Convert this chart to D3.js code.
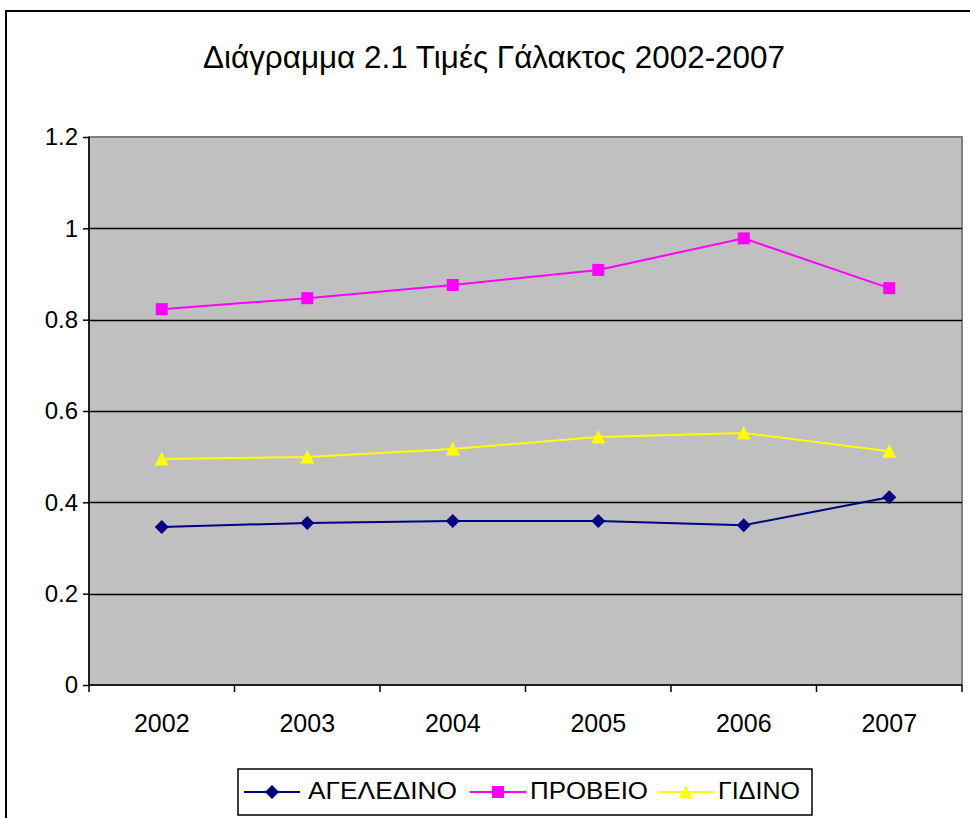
<!DOCTYPE html>
<html><head><meta charset="utf-8">
<script src="https://cdn.jsdelivr.net/npm/d3@7"></script>
<style>html,body{margin:0;padding:0;background:#fff;}svg{display:block;font-family:"Liberation Sans",Arial,sans-serif;}</style>
</head><body>
<script>
const titleText = "Διάγραμμα 2.1 Τιμές Γάλακτος 2002-2007";
const years = ["2002","2003","2004","2005","2006","2007"];
const yTicks = [0, 0.2, 0.4, 0.6, 0.8, 1, 1.2];
const seriesNames = ["ΑΓΕΛΕΔΙΝΟ","ΠΡΟΒΕΙΟ","ΓΙΔΙΝΟ"];
const ageladino = [0.346, 0.355, 0.359, 0.359, 0.350, 0.411];
const provio = [0.823, 0.847, 0.876, 0.909, 0.978, 0.869];
const gidino = [0.495, 0.499, 0.517, 0.543, 0.552, 0.512];
const colors = ["#000080","#FF00FF","#FFFF00"];
const markers = ["diamond","square","triangle"];
const seriesValues = [ageladino, provio, gidino];

const W = 970, H = 818;
const svg = d3.select("body").append("svg").attr("width", W).attr("height", H);

// outer chart border
svg.append("rect").attr("x", 6).attr("y", 11).attr("width", 990).attr("height", 830)
  .attr("fill", "#fff").attr("stroke", "#000").attr("stroke-width", 2);

svg.append("text").attr("x", 494).attr("y", 68).attr("text-anchor", "middle")
  .attr("font-size", 32).attr("fill", "#000")
  .attr("textLength", 582).attr("lengthAdjust", "spacingAndGlyphs").text(titleText);

const L = 89, R = 962, T = 137, B = 685;
const x = d3.scaleBand().domain(years).range([L, R]);
const y = d3.scaleLinear().domain([0, 1.2]).range([B, T]);

svg.append("rect").attr("x", L).attr("y", T).attr("width", R - L).attr("height", B - T)
  .attr("fill", "#C0C0C0").attr("stroke", "#808080").attr("stroke-width", 2);

// gridlines
svg.append("g").selectAll("line").data(yTicks.filter(d => d > 0 && d < 1.2)).join("line")
  .attr("x1", L).attr("x2", R).attr("y1", d => Math.round(y(d)) + 0.5).attr("y2", d => Math.round(y(d)) + 0.5)
  .attr("stroke", "#000").attr("stroke-width", 1.5);

// y axis
const yAxis = d3.axisLeft(y).tickValues(yTicks).tickSize(6).tickPadding(5).tickFormat(d => d3.format("")(d));
const gy = svg.append("g").attr("transform", `translate(${L},0)`).call(yAxis);
gy.select(".domain").attr("stroke", "#000").attr("stroke-width", 1.5).attr("d", `M0,${B}V${T}`);
gy.selectAll(".tick line").attr("stroke", "#000").attr("stroke-width", 1.5);
gy.selectAll(".tick text").attr("font-size", 24).attr("fill", "#000").attr("font-family", "Liberation Sans, Arial, sans-serif");

// x axis
const xAxis = d3.axisBottom(x).tickSize(0).tickPadding(29);
const gx = svg.append("g").attr("transform", `translate(0,${B})`).call(xAxis);
gx.select(".domain").attr("stroke", "#000").attr("stroke-width", 1.5).attr("d", `M${L},0H${R}`);
gx.selectAll(".tick text").attr("font-size", 25).attr("fill", "#000").attr("font-family", "Liberation Sans, Arial, sans-serif");
// tick marks at band boundaries
const bounds = years.map(d => x(d)).concat([R]);
gx.append("g").selectAll("line").data(bounds).join("line")
  .attr("x1", d => d).attr("x2", d => d).attr("y1", 0).attr("y2", 7)
  .attr("stroke", "#000").attr("stroke-width", 1.5);

function markerPath(type) {
  if (type === "diamond") return "M0,-7L7,0L0,7L-7,0Z";
  if (type === "square") return "M-6,-6H6V6H-6Z";
  return "M0,-7L7,6.5H-7Z";
}

const cx = d => x(d) + x.bandwidth() / 2;
seriesValues.forEach((vals, i) => {
  const line = d3.line().x((d, j) => cx(years[j])).y(d => y(d));
  svg.append("path").datum(vals).attr("d", line).attr("fill", "none")
    .attr("stroke", colors[i]).attr("stroke-width", 2);
  svg.append("g").selectAll("path").data(vals).join("path")
    .attr("transform", (d, j) => `translate(${cx(years[j])},${y(d)})`)
    .attr("d", markerPath(markers[i])).attr("fill", colors[i]);
});

// legend
const lg = svg.append("g");
lg.append("rect").attr("x", 238).attr("y", 769).attr("width", 574).attr("height", 46)
  .attr("fill", "#fff").attr("stroke", "#000").attr("stroke-width", 1.5);
const legX = [244, 470, 658];
const legTextX = [308, 530, 718];
const legTextW = [149, 118, 82];
seriesNames.forEach((n, i) => {
  const g = lg.append("g").attr("transform", `translate(${legX[i]},792)`);
  g.append("line").attr("x1", 0).attr("x2", 56).attr("y1", 0).attr("y2", 0)
    .attr("stroke", colors[i]).attr("stroke-width", 2);
  g.append("path").attr("transform", "translate(28,0)").attr("d", markerPath(markers[i])).attr("fill", colors[i]);
  lg.append("text").attr("x", legTextX[i]).attr("y", 799).attr("font-size", 24).attr("fill", "#000")
    .attr("textLength", legTextW[i]).attr("lengthAdjust", "spacingAndGlyphs").text(n);
});
</script>
</body></html>
